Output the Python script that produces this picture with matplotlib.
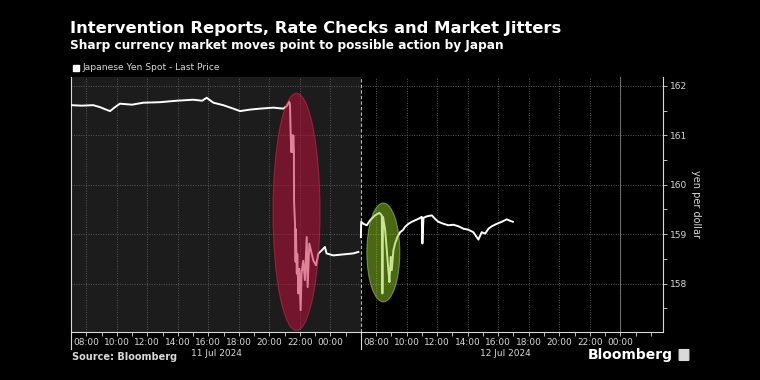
import matplotlib.pyplot as plt
import matplotlib.transforms as mtransforms
from matplotlib.patches import Ellipse, Rectangle, FancyBboxPatch
from matplotlib.lines import Line2D

# hours after 07:00 on 11 Jul
day1_hours = [0.0, 0.7, 1.46, 1.9, 2.3, 2.56, 2.88, 3.21, 4.0, 4.74, 5.83, 6.93, 8.01, 8.6,
              8.89, 9.33, 9.98, 10.64, 11.08, 11.73, 12.39, 13.26, 13.91, 14.14, 14.3, 14.35,
              14.40, 14.44, 14.48, 14.53, 14.57, 14.61, 14.62, 14.68, 14.72, 14.74, 14.80,
              14.83, 14.90, 14.96, 15.05, 15.11, 15.22, 15.33, 15.45, 15.51, 15.62, 15.77,
              15.88, 16.06, 16.21, 16.43, 16.64, 16.75, 17.19, 17.84, 18.50, 18.83]
day1_price = [161.61, 161.60, 161.61, 161.57, 161.52, 161.49, 161.57, 161.64, 161.62, 161.66,
              161.67, 161.70, 161.72, 161.70, 161.76, 161.66, 161.61, 161.54, 161.49, 161.52,
              161.54, 161.56, 161.54, 161.59, 161.68, 161.63,
              161.00, 160.66, 161.00, 160.66, 161.00, 160.66, 159.65, 159.22, 158.44, 159.10,
              158.20, 158.60, 157.80, 158.30, 157.46, 158.20, 158.46, 158.07, 158.94, 157.93,
              158.81, 158.61, 158.47, 158.37, 158.61, 158.67, 158.74, 158.61, 158.57, 158.59,
              158.61, 158.64]

# hours after 07:00 on 12 Jul
day2_hours = [0.0, 0.02, 0.16, 0.39, 0.60, 0.93, 1.21, 1.37, 1.41, 1.45, 1.59, 1.70, 1.80,
              1.87, 1.96, 2.02, 2.13, 2.24, 2.39, 2.57, 2.75, 2.90, 3.12, 3.34, 3.55, 3.77,
              3.99, 4.03, 4.10, 4.32, 4.65, 4.86, 5.08, 5.41, 5.73, 6.06, 6.39, 6.72, 7.04,
              7.37, 7.59, 7.70, 7.92, 8.14, 8.36, 8.58, 8.91, 9.23, 9.56, 9.78, 9.96]
day2_price = [158.94, 159.25, 159.21, 159.18, 159.28, 159.38, 159.43, 159.38, 157.80, 159.35,
              159.08, 158.67, 158.27, 158.03, 158.54, 158.27, 158.67, 158.81, 158.94, 159.04,
              159.08, 159.15, 159.21, 159.25, 159.28, 159.31, 159.35, 158.81, 159.33, 159.36,
              159.38, 159.31, 159.25, 159.21, 159.18, 159.19, 159.16, 159.11, 159.09, 159.04,
              158.94, 158.89, 159.04, 159.01, 159.11, 159.16, 159.21, 159.25, 159.30, 159.27,
              159.25]

session_len = 19.0  # each session shown from 07:00, gap after it removed
tick_hours = [1, 3, 5, 7, 9, 11, 13, 15, 17]
tick_labels = ["08:00", "10:00", "12:00", "14:00", "16:00", "18:00", "20:00", "22:00", "00:00"]
date_labels = ["11 Jul 2024", "12 Jul 2024"]
yticks = [158, 159, 160, 161, 162]

fg = "#d9d9d9"
grid_c = "#5a5a5a"

fig = plt.figure(figsize=(7.6, 3.8), dpi=100, facecolor="black")
ax = fig.add_axes([71 / 760, 1 - 332 / 380, 592 / 760, 255 / 380])
ax.set_facecolor("black")
ax.set_xlim(0, 38.8)
ax.set_ylim(157.02, 162.18)

ax.axvspan(0, session_len, color="#1c1c1c", zorder=0, lw=0)

x2 = [h + session_len for h in day2_hours]
ax.plot(day1_hours, day1_price, color="white", lw=1.4, zorder=3)
ax.plot(x2, day2_price, color="white", lw=1.4, zorder=3)

ax.add_patch(Ellipse((14.78, 159.45), 3.08, 4.80, facecolor="#c3103d", alpha=0.52,
                     edgecolor="#d0304f", lw=0.8, zorder=4))
ax.add_patch(Ellipse((20.47, 158.63), 2.16, 2.0, facecolor="#93ce27", alpha=0.51,
                     edgecolor="#b5e060", lw=0.8, zorder=4))

# ticks
major_x = tick_hours + [h + session_len for h in tick_hours]
ax.set_xticks(major_x)
ax.set_xticklabels(tick_labels * 2)
ax.set_xticks([h for h in range(0, 39) if h not in major_x], minor=True)
ax.tick_params(axis="x", which="both", colors=fg, labelsize=6.5, length=3, width=0.6, pad=1.5)
ax.yaxis.tick_right()
ax.set_yticks(yticks)
ax.set_yticks([157.5, 158.5, 159.5, 160.5, 161.5], minor=True)
ax.tick_params(axis="y", which="both", colors=fg, labelsize=6.5, length=3, width=0.6, pad=2)
ax.yaxis.set_label_position("right")
ax.set_ylabel("yen per dollar", color=fg, fontsize=7, rotation=270, labelpad=10)

ax.grid(True, which="major", color=grid_c, ls=(0, (1, 1.5)), lw=0.7, zorder=1)
ax.axvline(17 + session_len, color="#777777", lw=0.8, zorder=1)
ax.axvline(session_len, color="#bbbbbb", lw=0.8, ls=(0, (3, 2)), zorder=2)

ax.spines["top"].set_visible(False)
for s in ["left", "right", "bottom"]:
    ax.spines[s].set_color(fg)
    ax.spines[s].set_linewidth(0.8)

trans = mtransforms.blended_transform_factory(ax.transData, ax.transAxes)
for xv in [0, session_len]:
    ax.add_line(Line2D([xv, xv], [-0.067, 0], transform=trans, color=fg, lw=0.8, clip_on=False))

ax.text(9.5, -0.085, date_labels[0], transform=trans, color=fg, fontsize=6.5, ha="center", va="center")
ax.text(28.5, -0.085, date_labels[1], transform=trans, color=fg, fontsize=6.5, ha="center", va="center")

# titles
fig.text(70 / 760, 1 - 29 / 380, "Intervention Reports, Rate Checks and Market Jitters",
         color="white", fontsize=11.8, fontweight="bold", va="center")
fig.text(70 / 760, 1 - 46 / 380, "Sharp currency market moves point to possible action by Japan",
         color="white", fontsize=8.7, fontweight="bold", va="center")
fig.patches.append(Rectangle((73 / 760, 1 - 71 / 380), 6 / 760, 6 / 380, color="white",
                             transform=fig.transFigure))
fig.text(82 / 760, 1 - 68 / 380, "Japanese Yen Spot - Last Price", color=fg, fontsize=6.6, va="center")

fig.text(72 / 760, 1 - 357 / 380, "Source: Bloomberg", color=fg, fontsize=7,
         fontweight="bold", va="center")
fig.text(673 / 760, 1 - 355 / 380, "Bloomberg", color="white", fontsize=10, fontweight="semibold",
         ha="right", va="center")
fig.patches.append(FancyBboxPatch((680 / 760, 1 - 360 / 380), 8 / 760, 10 / 380,
                                  boxstyle="round,pad=0.001", color=fg,
                                  transform=fig.transFigure))

fig.savefig("out.png", dpi=100, facecolor="black")
